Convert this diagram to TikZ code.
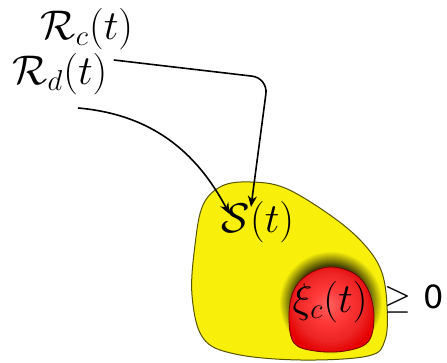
\documentclass[tikz,border=0pt]{standalone}
\usepackage{amsmath}
\usepackage{fontspec}
\newfontfamily\zerofont{DejaVu Sans}
\usetikzlibrary{arrows.meta,positioning,calc}
\definecolor{setyellow}{RGB}{248,240,10}
\definecolor{setred}{RGB}{236,36,36}
\pgfdeclareradialshading{redball}{\pgfpoint{-2bp}{3bp}}{%
  color(0bp)=(red!62!white); color(10bp)=(red!78!white);
  color(20bp)=(setred); color(27bp)=(red!90!black); color(50bp)=(red!90!black)}
\tikzset{
  lbl/.style={font=\huge, inner sep=0pt},
  smalllbl/.style={font=\fontsize{16}{19}\selectfont, inner sep=0pt},
  region/.style={draw=black!65!setyellow, line width=0.5pt, fill=setyellow},
  edge/.style={-{Stealth[length=5.5pt,width=4.5pt]}, thick}
}

\begin{document}
\begin{tikzpicture}[x=0.5pt, y=-0.5pt]
  \useasboundingbox (0,0) rectangle (447,363);

  % the set S(t) with the shadow of the red part
  \path[region, path picture={
      \foreach \i in {0,...,14} {
        \pgfmathsetmacro\shadeamt{\i*72/14}
        \fill[black!\shadeamt!setyellow] (331,303) circle ({52-\i});
      }}]
    plot[smooth cycle, tension=0.6] coordinates {(222,186) (250,182) (285,188)
      (330,215) (362,242) (381,270) (387,305) (385,340) (368,356) (300,360)
      (235,354) (203,338) (192,295) (195,245) (203,205)};
  \shade[shading=redball, draw=red!45!black, line width=0.4pt]
    plot[smooth cycle, tension=0.6] coordinates {(330,267) (355,274) (369,292)
      (374,318) (368,342) (345,351) (315,351) (294,343) (289,318) (293,292)
      (307,275)};

  \node[lbl] (rc) at (87,29) {$\mathcal{R}_c(t)$};
  \node[lbl] (rd) at (60,74) {$\mathcal{R}_d(t)$};
  \node[lbl] (sset) at (258,222) {$\mathcal{S}(t)$};
  \node[lbl] (xic) at (330,302) {$\xi_c(t)$};
  \node[smalllbl, anchor=west] (geq) at (384,299)
    {$\geq$\hspace{6pt}{\zerofont\fontsize{16}{19}\selectfont 0}};

  \coordinate (bend) at (268,78);
  \coordinate (src) at (78,108);

  \draw[edge, rounded corners=8pt] ([shift={(3pt,7pt)}]rd.east) -- (bend)
    -- ([shift={(-3.5pt,-3pt)}]sset.north);
  \draw[edge] (src) to[out=-5, in=118] ([shift={(4pt,4pt)}]sset.west);
\end{tikzpicture}
\end{document}
